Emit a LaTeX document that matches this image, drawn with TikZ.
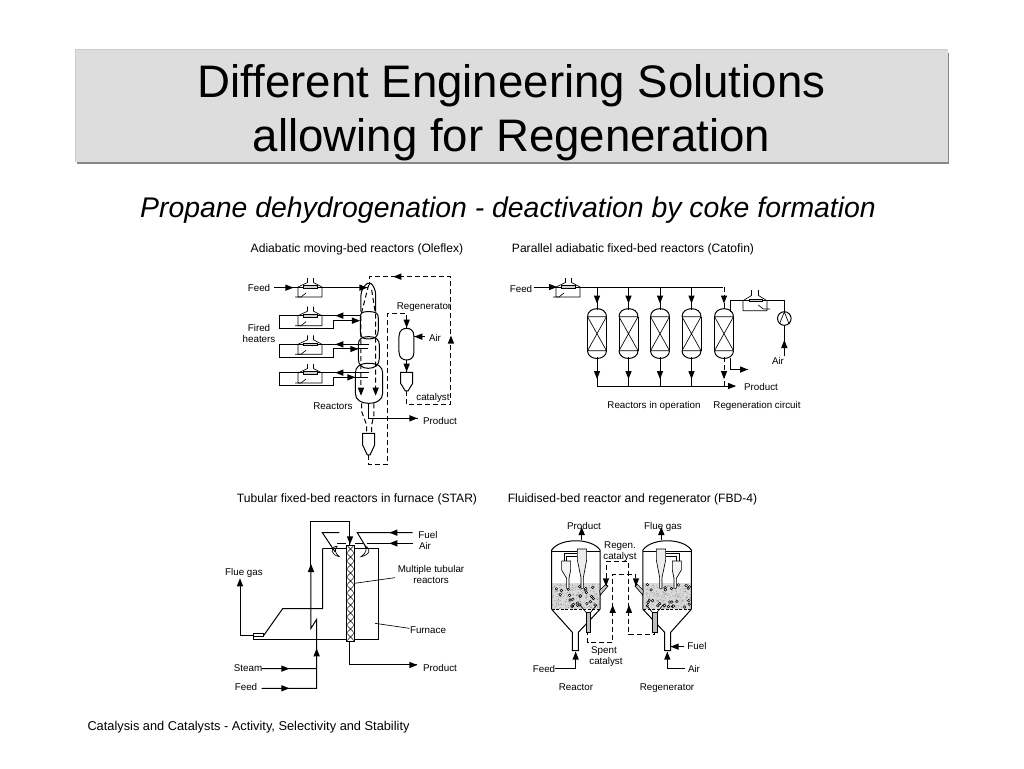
\documentclass[tikz,border=0pt]{standalone}
\usepackage{fontspec}
\setmainfont{Liberation Sans}
\begin{document}
\begin{tikzpicture}[x=1pt,y=-1pt,line width=1pt,line join=miter,
  lab/.style={inner sep=0pt,anchor=base,yshift=-3.6pt,font=\fontsize{9.8}{11}\selectfont},
  head/.style={inner sep=0pt,anchor=base,font=\fontsize{12.1}{13}\selectfont},
  ttl/.style={inner sep=0pt,anchor=base,font=\fontsize{45.6}{50}\selectfont},
  dsh/.style={dash pattern=on 5pt off 3pt},
  thin1/.style={line width=.65pt}]
\newcommand\ar[3]{\fill[shift={(#1,#2)},rotate=#3] (0,0)--(-8pt,-3.2pt)--(-8pt,3.2pt)--cycle;}
\newcommand\heater[2]{\begin{scope}[shift={(#1,#2)},thin1]
  \draw (-2.5,-9)--(-2.5,-4.5)--(-12,0)--(-12,10)--(12,10)--(12,0)--(3.5,-4.5)--(3.5,-9);
  \draw[fill=gray!35] (-7,-1.2)rectangle(7,1.2);
  \draw (-15,10)--(-9,10)--(-4,6);\end{scope}}
\newcommand\cat[1]{\begin{scope}[shift={(#1,0)}]
  \draw (-9.5,316.7)--(-9.5,350.7) (9.5,316.7)--(9.5,350.7);
  \draw (-9.5,316.7) .. controls (-9.5,306) and (9.5,306) .. (9.5,316.7);
  \draw (-9.5,350.7) .. controls (-9.5,361) and (9.5,361) .. (9.5,350.7);
  \draw[thin1] (-9.5,316.7)--(9.5,316.7) (-9.5,350.7)--(9.5,350.7) (-9.5,316.7)--(9.5,350.7) (9.5,316.7)--(-9.5,350.7);
  \end{scope}}
\newcommand\fbd{%
  \fill[gray!30] (80,205) rectangle (225,283);
  \foreach \i in {1,...,260}{\fill[black!65] ({82+141*rnd},{207+74*rnd}) circle (.3pt);}
  \foreach \i in {1,...,26}{\draw[line width=.5pt,fill=gray!10] ({84+137*rnd},{208+72*rnd}) circle (1.3pt);}
  \draw (80,283)--(80,105) .. controls (105,68) and (200,68) .. (225,105)--(225,283);
  \draw[thin1] (80,110)--(225,110);
  \draw[dash pattern=on 3pt off 1.5pt] (80,283)--(225,283);
  \draw (80,283)--(142,352)--(142,407)--(160,407)--(160,352)--(225,283);
  \draw[fill=gray!15,thin1] (157,102)--(185,102)--(185,135)--(175,188)--(175,220)--(168,220)--(168,188)--(157,135)--cycle;
  \draw[fill=gray!8,thin1] (110,138)--(137,138)--(137,165)--(132,190)--(132,220)--(125,220)--(125,190)--(110,165)--cycle;
  \draw[thin1] (117,138)--(117,115)--(157,115) (125,138)--(125,125)--(157,125);
  \draw[fill=gray!50,thin1] (183,292)--(183,352)--(197,352)--(197,292)--cycle;
  \draw[thin1] (165,270)--(183,292) (215,270)--(197,292);
  \draw[fill=gray!45,thin1] (224,226)--(242,208)--(249,213)--(226,240)--cycle;
}
%
\useasboundingbox (0,0) rectangle (1024,768);
\fill[white] (0,0) rectangle (1024,768);
% title
\fill[black!47] (77,53) rectangle (949,164);
\fill[gray!40] (74.5,49.5) rectangle (947.5,161.5);
\fill[black!13.5] (75.5,50.5) rectangle (947.5,161.5);
\node (t1) at (511.5,97) [ttl] {Different Engineering Solutions};
\node (t2) at (511.5,151.5) [ttl] {allowing for Regeneration};
\node (st) at (508,217) [inner sep=0pt,anchor=base,font=\fontsize{28.4}{30}\selectfont\itshape] {Propane dehydrogenation - deactivation by coke formation};
\node (h1) at (357,252) [head] {Adiabatic moving-bed reactors (Oleflex)};
\node (h2) at (633,252) [head] {Parallel adiabatic fixed-bed reactors (Catofin)};
\node (h3) at (357,502) [head] {Tubular fixed-bed reactors in furnace (STAR)};
\node (h4) at (632.5,502) [head] {Fluidised-bed reactor and regenerator (FBD-4)};
\node (ft) at (87,730) [anchor=base west,inner sep=0pt,font=\fontsize{12.8}{14}\selectfont] {Catalysis and Catalysts - Activity, Selectivity and Stability};
%
% OLEFLEX
\heater{310}{287}\heater{310}{315.7}\heater{310}{344.3}\heater{310}{373}
\begin{scope}[shift={(230,265)},x=.3333pt,y=-.3333pt]
 \draw (133,68)--(220,68) (260,68)--(415,68); \ar{190}{68}{0}\ar{412}{68}{0}
 \foreach \y/\x/\k in {152/392/167,238/417/252,323/417/337}{
   \draw (260,\y)--(\x,\y) (220,\y)--(148,\y)--(148,\y+40)--(310,\y+40)--(310,\k)--(\x-4,\k);
   \ar{316}{\y}{180}
 }
 \ar{390}{167}{0}\ar{385}{252}{0}\ar{376}{337}{0}
 % reactors
 \draw (393,140)--(393,90) .. controls (393,75) and (405,60) .. (412,55)--(422,55) .. controls (430,60) and (437,75) .. (437,90)--(437,140);
 \draw (391,160) .. controls (391,145) and (393,140) .. (415,140) .. controls (440,140) and (445,145) .. (445,160)--(445,195) .. controls (445,215) and (435,222) .. (415,222) .. controls (395,222) and (391,215) .. (391,195)--cycle;
 \draw (385,240) .. controls (385,222) and (395,215) .. (415,215) .. controls (440,215) and (448,225) .. (448,240)--(448,280) .. controls (448,300) and (435,310) .. (415,310) .. controls (395,310) and (385,300) .. (385,280)--cycle;
 \draw (376,325) .. controls (376,305) and (390,295) .. (415,295) .. controls (445,295) and (458,305) .. (458,325)--(458,385) .. controls (458,405) and (440,415) .. (415,415) .. controls (395,415) and (376,405) .. (376,385)--cycle;
 % dashed catalyst
 \draw[dsh] (416,60)--(393,150)--(393,385) (425,75)--(437,150)--(437,385);
 \ar{393}{392}{270}\ar{437}{392}{270}
 \draw[dsh] (395,415)--(395,440)--(410,480)--(410,505) (432,415)--(432,450)--(425,480)--(425,505);
 \draw (398,505)--(434,505)--(434,540)--(420,570)--(412,570)--(398,540)--cycle;
 \draw[dsh] (416,570)--(416,598)--(473,598)--(473,145)--(530,145)--(530,190);
 \ar{530}{188}{270}
 \draw (507,215) .. controls (507,195) and (520,190) .. (530,190) .. controls (540,190) and (552,195) .. (552,215)--(552,260) .. controls (552,280) and (540,285) .. (530,285) .. controls (520,285) and (507,280) .. (507,260)--cycle;
 \draw (530,285)--(530,322); \ar{530}{320}{270}
 \draw (512,322)--(548,322)--(548,355)--(534,378)--(526,378)--(512,355)--cycle;
 \draw[dsh] (530,378)--(530,418)--(663,418)--(663,35)--(418,35)--(418,60);
 \ar{490}{35}{180}\ar{663}{212}{90}
 \draw (585,215)--(553,215); \ar{553}{215}{180}
 \draw (415,415)--(415,460)--(565,460); \ar{562}{460}{0}
\end{scope}
\node (a1) at (259,288) [lab] {Feed};
\node (a2) at (259,328) [lab] {Fired};
\node (a2b) at (259,339) [lab] {heaters};
\node (a3) at (424,306) [lab] {Regenerator};
\node (a4) at (435,338) [lab] {Air};
\node (a5) at (433,397) [lab] {catalyst};
\node (a6) at (333,406) [lab] {Reactors};
\node (a7) at (440,421) [lab] {Product};
%
% CATOFIN
\heater{568}{287}
\begin{scope}[thin1]
  \draw (751.5,290)--(751.5,295.5)--(743,300.7)--(743,310.7)--(767,310.7)--(767,300.7)--(758.5,295.5)--(758.5,290);
  \draw[fill=gray!35] (749,299.7)rectangle(762,301.7);
  \draw (758.3,305)--(763.3,309)--(770,309);
\end{scope}
\draw (534,287)--(561,287) (575,287)--(723,287);\ar{557}{287}{0}
\foreach \x in {597,628.5,660,691.5}{
  \draw (\x,287)--(\x,310); \ar{\x}{303.5}{270}
  \cat{\x}
  \draw (\x,357)--(\x,386); \ar{\x}{379}{270}
}
\cat{724}
\draw[dsh] (724,287)--(724,310) (724,357)--(724,386);
\ar{724}{303.5}{270}\ar{724}{379}{270}
\draw (597,386)--(735,386);\ar{736}{386}{0}
\draw (730,358)--(730,369.5)--(748,369.5);\ar{748}{369.5}{0}
\draw (730,312)--(730,300.7)--(749,300.7) (762,300.7)--(784.3,300.7)--(784.3,311.6);
\draw (784.3,318.5) circle (6.8pt);
\draw[thin1] (779.5,323.7)--(784.3,312)--(789,323.7);
\draw (784.3,356)--(784.3,325.5);\ar{784.3}{340}{90}
\node (b1) at (521,289) [lab] {Feed};
\node (b2) at (778,361) [lab] {Air};
\node (b3) at (761,387) [lab] {Product};
\node (b4) at (654,405) [lab] {Reactors in operation};
\node (b5) at (757,405) [lab] {Regeneration circuit};
%
% STAR
\begin{scope}[shift={(220,510)},x=.3333pt,y=-.3333pt]
 \draw (308,115)--(475,115)--(475,388)--(100,388)--(100,370)--(130,370)--(130,380)--(100,380);
 \draw (308,115)--(308,296)--(188,296)--(130,378);
 \draw (100,378)--(60,378)--(60,215);\ar{60}{205}{90}
 \draw (273,165)--(273,35)--(390,35)--(390,105);\ar{390}{103}{270}
 \draw (273,165)--(273,355)--(290,328)--(290,535)--(125,535) (125,476)--(290,476);
 \ar{273}{162}{90}\ar{290}{415}{90}\ar{208}{476}{0}\ar{208}{535}{0}
 \draw[fill=white] (380,105) rectangle (403,395);
 \begin{scope}
 \clip (380,105) rectangle (403,395);
 \foreach \i in {0,...,12}{\draw[line width=.5pt] (380,105+\i*24)--(403,129+\i*24) (403,105+\i*24)--(380,129+\i*24);}
 \end{scope}
 \draw (380,105) rectangle (403,395);
 \draw (390,395)--(390,465)--(590,465);\ar{592}{465}{0}
 % burners
 \draw (358,68)--(307,68)--(345,125);
 \draw (578,68)--(412,68)--(440,115);
 \draw[thin1] (352,108) .. controls (328,112) and (332,135) .. (358,140) .. controls (345,130) and (342,118) .. (352,108);
 \draw[thin1] (435,108) .. controls (455,115) and (450,135) .. (423,140) .. controls (438,130) and (442,118) .. (435,108);
 \draw (352,100)--(378,100) (405,100)--(430,100) (440,100)--(578,100);
 \ar{508}{68}{180}\ar{508}{100}{180}
 \draw[thin1] (525,203)--(403,220) (568,355)--(465,340);
\end{scope}
\node (c1) at (428,535) [lab] {Fuel};
\node (c2) at (425,546) [lab] {Air};
\node (c3) at (244,571.5) [lab] {Flue gas};
\node (c4) at (431,569) [lab] {Multiple tubular};
\node (c4b) at (431,580) [lab] {reactors};
\node (c5) at (428,630) [lab] {Furnace};
\node (c6) at (248,668) [lab] {Steam};
\node (c7) at (246,687) [lab] {Feed};
\node (c8) at (440,667.5) [lab] {Product};
%
% FBD
\pgfmathsetseed{7}
\begin{scope}[shift={(525,515)},x=.3333pt,y=-.3333pt]
 \fbd
 \begin{scope}[shift={(579,0)},xscale=-1] \fbd \end{scope}
 \draw (170,75)--(170,40);\ar{170}{36}{90}
 \draw (409,75)--(409,40);\ar{409}{36}{90}
 \draw[dsh] (243,212)--(243,140)--(312,140)--(312,360)--(388,360)--(388,350);
 \draw[dsh] (333,212)--(333,177)--(263,177)--(263,383)--(188,383)--(188,352);
 \ar{243}{214}{270}\ar{333}{214}{270}\ar{263}{270}{90}\ar{312}{270}{90}
 \draw (90,462)--(152,462)--(152,412);\ar{152}{410}{90}
 \draw (480,462)--(427,462)--(427,412);\ar{427}{410}{90}
 \draw (477,395)--(437,395);\ar{437}{395}{180}
\end{scope}
\node (d1) at (584,526) [lab] {Product};
\node (d2) at (663,526) [lab] {Flue gas};
\node (d3) at (620,545) [lab] {Regen.};
\node (d3b) at (620,556) [lab] {catalyst};
\node (d4) at (604,650) [lab] {Spent};
\node (d4b) at (606,661) [lab] {catalyst};
\node (d5) at (697,646) [lab] {Fuel};
\node (d6) at (694,669) [lab] {Air};
\node (d7) at (544,669) [lab] {Feed};
\node (d8) at (576,687) [lab] {Reactor};
\node (d9) at (667,687) [lab] {Regenerator};
\end{tikzpicture}
\end{document}
